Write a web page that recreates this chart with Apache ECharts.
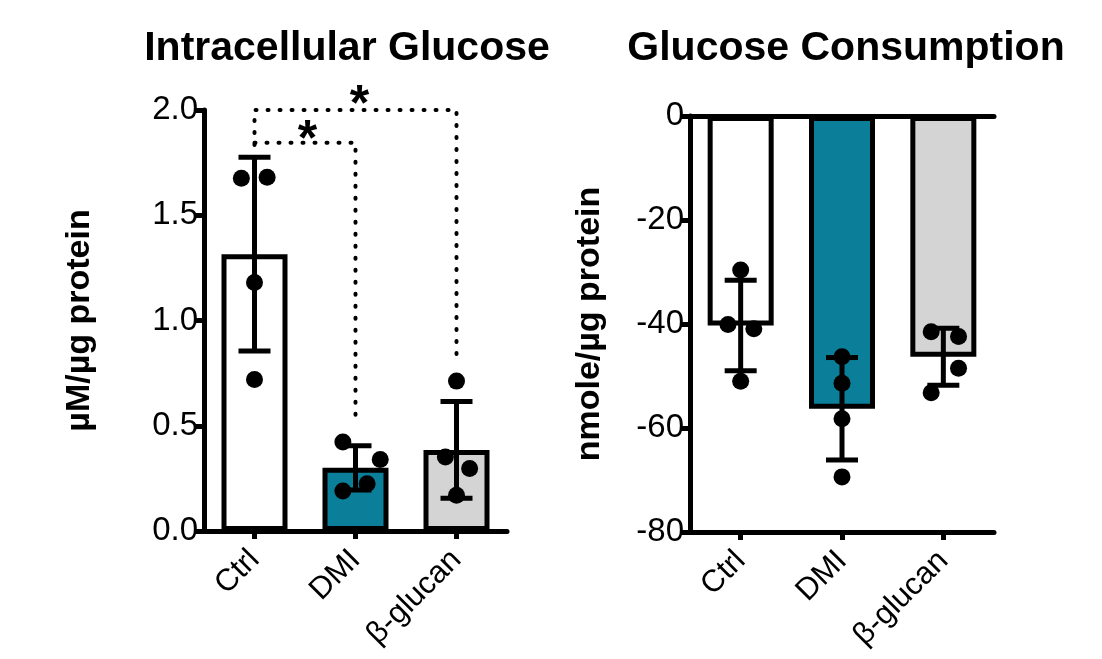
<!DOCTYPE html>
<html>
<head>
<meta charset="utf-8">
<script src="https://cdn.jsdelivr.net/npm/echarts@6/dist/echarts.min.js"></script>
<style>
html,body{margin:0;padding:0;background:#fff;}
#main{width:1102px;height:659px;}
</style>
</head>
<body>
<div id="main"></div>
<script>
// ---- data ----
const categories = ['Ctrl', 'DMI', '\u03b2-glucan'];
const barColors = ['#ffffff', '#0b7f99', '#d4d4d4'];

// Intracellular glucose (µM/µg protein)
const igMean = [1.315, 0.30, 0.385];
const igSD = [0.46, 0.105, 0.23];
const igPoints = [
  [1.676, 1.68, 1.181, 0.72],
  [0.423, 0.34, 0.225, 0.19],
  [0.712, 0.352, 0.297, 0.17]
];
const igJitter = [
  [-0.13, 0.125, 0, 0],
  [-0.125, 0.245, 0.115, -0.125],
  [0, -0.11, 0.13, 0]
];
const igTicks = [0, 0.5, 1.0, 1.5, 2.0];

// Glucose consumption (nmole/µg protein)
const gcMean = [-40.3, -56.3, -46.3];
const gcSD = [8.7, 9.85, 5.5];
const gcPoints = [
  [-29.6, -40.1, -40.9, -51.0],
  [-46.3, -51.4, -58.2, -69.4],
  [-41.5, -42.4, -48.5, -53.2]
];
const gcJitter = [
  [0, -0.125, 0.13, 0],
  [0, 0, 0, 0],
  [-0.12, 0.15, 0.15, -0.12]
];
const gcTicks = [-80, -60, -40, -20, 0];

// significance brackets (category position, value)
const sigBracketA = [[0, 1.834], [0, 2.0], [2, 2.0], [2, 0.796]];
const sigBracketB = [[0, 1.845], [1, 1.845], [1, 0.55]];
const sigStars = [[1.04, 2.079], [0.525, 1.913]];
const sigLabel = '*';

// ---- build ----
const FONT = "'Liberation Sans', Arial, Helvetica, sans-serif";
const chart = echarts.init(document.getElementById('main'));

function barData(means) {
  return means.map((v, i) => ({
    value: v,
    itemStyle: { color: barColors[i], borderColor: '#000', borderWidth: 5 }
  }));
}
function errData(means, sds) {
  return means.map((m, i) => [i, m - sds[i], m + sds[i]]);
}
function pointData(points, jitter) {
  const out = [];
  points.forEach((arr, i) => arr.forEach((v, j) => out.push([i + jitter[i][j], v])));
  return out;
}
function errRender(params, api) {
  const i = api.value(0);
  const lo = api.coord([i, api.value(1)]);
  const hi = api.coord([i, api.value(2)]);
  const w = 16;
  const st = { stroke: '#000', lineWidth: 5 };
  return {
    type: 'group',
    children: [
      { type: 'line', shape: { x1: lo[0], y1: lo[1], x2: hi[0], y2: hi[1] }, style: st },
      { type: 'line', shape: { x1: hi[0] - w, y1: hi[1], x2: hi[0] + w, y2: hi[1] }, style: st },
      { type: 'line', shape: { x1: lo[0] - w, y1: lo[1], x2: lo[0] + w, y2: lo[1] }, style: st }
    ]
  };
}
function starRender(params, api) {
  const p = api.coord([api.value(0), api.value(1)]);
  return {
    type: 'text', x: p[0], y: p[1] + 13,
    style: { text: sigLabel, font: 'bold 50px ' + FONT, fill: '#000', textAlign: 'center', textVerticalAlign: 'middle' }
  };
}

const axisLine = { show: true, onZero: false, lineStyle: { color: '#000', width: 5 } };
const axisTick = { show: true, length: 8, lineStyle: { color: '#000', width: 5 } };

function catAxis(grid) {
  return {
    type: 'category', gridIndex: grid, data: categories, position: 'bottom',
    axisLine: axisLine,
    axisTick: Object.assign({ alignWithLabel: true }, axisTick),
    axisLabel: { rotate: 45, fontSize: 31, color: '#000', fontFamily: FONT, margin: 24 },
    splitLine: { show: false }
  };
}
function valAxis(grid, ticks, name, gap) {
  return {
    type: 'value', gridIndex: grid,
    min: ticks[0], max: ticks[ticks.length - 1], interval: ticks[1] - ticks[0],
    axisLine: axisLine, axisTick: axisTick,
    axisLabel: {
      fontSize: 33, color: '#000', fontFamily: FONT, margin: 6,
      formatter: v => (grid === 0 ? v.toFixed(1) : String(v))
    },
    splitLine: { show: false },
    name: name, nameLocation: 'middle', nameGap: gap,
    nameTextStyle: { fontSize: 34, fontWeight: 'bold', color: '#000', fontFamily: FONT }
  };
}

const option = {
  backgroundColor: '#fff',
  animation: false,
  graphic: [
    { type: 'text', x: 347, y: 49, style: { text: 'Intracellular Glucose', font: "bold 41px " + FONT, fill: '#000', textAlign: 'center', textVerticalAlign: 'middle' } },
    { type: 'text', x: 846, y: 49, style: { text: 'Glucose Consumption', font: "bold 41px " + FONT, fill: '#000', textAlign: 'center', textVerticalAlign: 'middle' } }
  ],
  grid: [
    { left: 204, top: 110, width: 303, height: 421 },
    { left: 690, top: 116, width: 304, height: 416 }
  ],
  xAxis: [
    catAxis(0),
    { type: 'value', gridIndex: 0, min: -0.5, max: 2.5, show: false },
    catAxis(1),
    {
      type: 'value', gridIndex: 1, min: -0.5, max: 2.5, position: 'top',
      axisLine: axisLine, axisTick: { show: false }, axisLabel: { show: false }, splitLine: { show: false }
    }
  ],
  yAxis: [
    valAxis(0, igTicks, '\u00b5M/\u00b5g protein', 107),
    valAxis(1, gcTicks, 'nmole/\u00b5g protein', 83)
  ],
  series: [
    { type: 'bar', xAxisIndex: 0, yAxisIndex: 0, barWidth: 66, data: barData(igMean), z: 2 },
    { type: 'custom', xAxisIndex: 0, yAxisIndex: 0, renderItem: errRender, data: errData(igMean, igSD), z: 3 },
    { type: 'scatter', xAxisIndex: 1, yAxisIndex: 0, symbolSize: 17, itemStyle: { color: '#000', opacity: 1 }, data: pointData(igPoints, igJitter), z: 4 },
    { type: 'line', xAxisIndex: 1, yAxisIndex: 0, data: sigBracketA, symbol: 'none', clip: false,
      lineStyle: { color: '#000', width: 4, type: [1, 11], cap: 'round' }, z: 1 },
    { type: 'line', xAxisIndex: 1, yAxisIndex: 0, data: sigBracketB, symbol: 'none', clip: false,
      lineStyle: { color: '#000', width: 4, type: [1, 11], cap: 'round' }, z: 1 },
    { type: 'custom', xAxisIndex: 1, yAxisIndex: 0, data: sigStars, renderItem: starRender, clip: false, z: 5 },

    { type: 'bar', xAxisIndex: 2, yAxisIndex: 1, barWidth: 66, data: barData(gcMean), z: 2 },
    { type: 'custom', xAxisIndex: 2, yAxisIndex: 1, renderItem: errRender, data: errData(gcMean, gcSD), z: 3 },
    { type: 'scatter', xAxisIndex: 3, yAxisIndex: 1, symbolSize: 17, itemStyle: { color: '#000', opacity: 1 }, data: pointData(gcPoints, gcJitter), z: 4 }
  ]
};
chart.setOption(option);
</script>
</body>
</html>
